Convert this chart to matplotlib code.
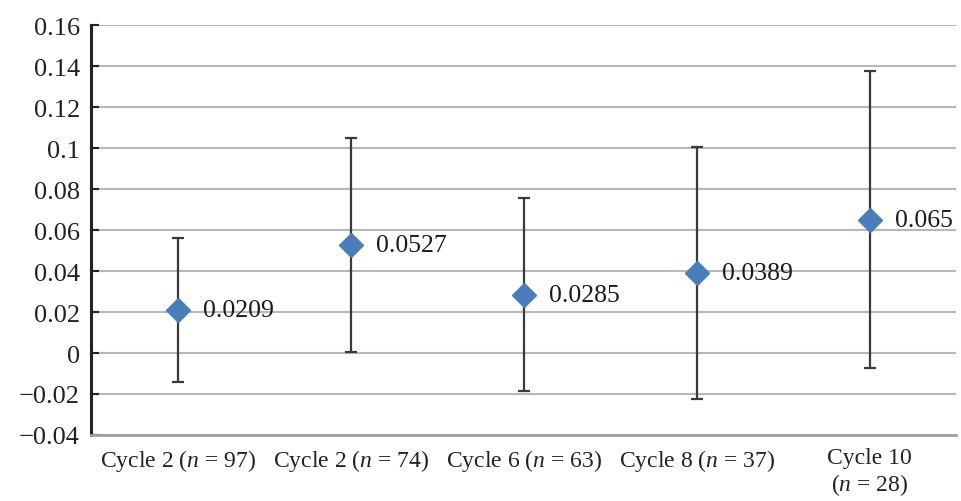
import matplotlib
matplotlib.use("Agg")
import matplotlib.pyplot as plt
import numpy as np

plt.rcParams['font.family'] = ['Liberation Serif', 'DejaVu Serif']
plt.rcParams['mathtext.fontset'] = 'custom'
plt.rcParams['mathtext.rm'] = 'Liberation Serif'
plt.rcParams['mathtext.it'] = 'Liberation Serif:italic'

categories = ["Cycle 2 ($n$ = 97)", "Cycle 2 ($n$ = 74)", "Cycle 6 ($n$ = 63)",
              "Cycle 8 ($n$ = 37)", "Cycle 10\n($n$ = 28)"]
means = [0.0209, 0.0527, 0.0285, 0.0389, 0.065]
errors = [0.035, 0.052, 0.047, 0.0615, 0.0725]
value_labels = ["0.0209", "0.0527", "0.0285", "0.0389", "0.065"]
yticks = [-0.04, -0.02, 0, 0.02, 0.04, 0.06, 0.08, 0.1, 0.12, 0.14, 0.16]
ytick_labels = ["\u22120.04", "\u22120.02", "0", "0.02", "0.04", "0.06",
                "0.08", "0.1", "0.12", "0.14", "0.16"]

fig = plt.figure(figsize=(9.61, 5.02), dpi=100)
ax = fig.add_axes([0.0947, 0.1315, 0.9003, 0.8165])

x = np.arange(len(categories))
ax.errorbar(x, means, yerr=errors, fmt='none', ecolor='#3a3a3a',
            elinewidth=1.6, capsize=4.5, capthick=1.6, zorder=3)
ax.plot(x, means, linestyle='none', marker='D', markersize=12.5,
        color='#4A7EBB', markeredgecolor='#4A7EBB', zorder=4)

for xi, yi, lab in zip(x, means, value_labels):
    ax.annotate(lab, (xi, yi), xytext=(18, 0), textcoords='offset points',
                ha='left', va='center', fontsize=18.5, color='#1a1a1a')

ax.set_xlim(-0.5, len(categories) - 0.5)
ax.set_ylim(-0.04, 0.16)
ax.set_yticks(yticks)
ax.set_yticklabels(ytick_labels, fontsize=19)
ax.set_xticks(x)
ax.set_xticklabels(categories, fontsize=17, linespacing=1.15)

ax.yaxis.grid(True, color='#b8b8b8', linewidth=1.5)
ax.set_axisbelow(True)

for s in ['top', 'right']:
    ax.spines[s].set_visible(False)
ax.spines['left'].set_color('#222222')
ax.spines['left'].set_linewidth(2.2)
ax.spines['bottom'].set_color('#a0a0a0')
ax.spines['bottom'].set_linewidth(2.0)

ax.tick_params(axis='y', direction='in', length=6, width=1.5, color='#222222',
               pad=8, labelcolor='#222222')
ax.tick_params(axis='x', length=0, pad=9, labelcolor='#222222')

fig.savefig('out.png', dpi=100)
